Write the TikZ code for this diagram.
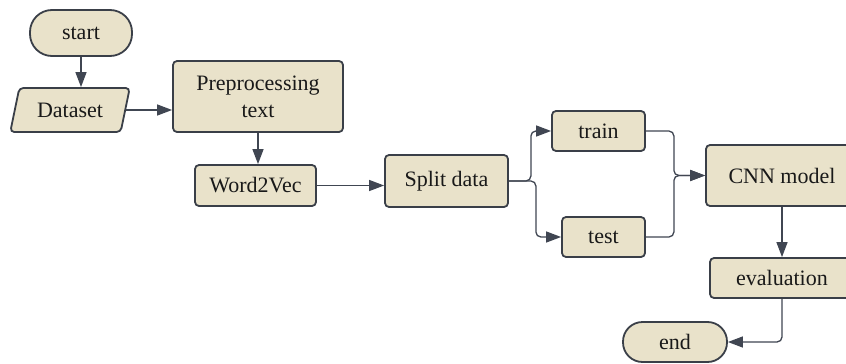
\documentclass[tikz,border=0pt]{standalone}
\usepackage{fontspec}
\setmainfont{Liberation Serif}
\usetikzlibrary{shapes.geometric,arrows.meta}
\definecolor{boxfill}{RGB}{233,226,202}
\definecolor{boxline}{RGB}{58,63,72}
\definecolor{wire}{RGB}{64,70,82}
\begin{document}
\begin{tikzpicture}[x=1pt,y=-1pt,
  box/.style={draw=boxline, fill=boxfill, line width=1.8pt, rounded corners=4pt,
    font=\fontsize{22}{27}\selectfont, align=center, inner sep=0pt, text=black!90},
  pill/.style={box, rounded corners=19.5pt},
  io/.style={box, shape=trapezium, trapezium left angle=68, trapezium right angle=112,
    trapezium stretches=true},
  arr/.style={draw=wire, line width=1.3pt, -{Triangle[length=15pt,width=11pt]}, rounded corners=5pt}
]
\useasboundingbox (0,0) rectangle (846,364);
\clip (0,0) rectangle (846,364);
\fill[white] (0,0) rectangle (846,364);

% process nodes
\node[pill, minimum width=102pt, minimum height=46pt, rounded corners=22pt] (start) at (81,33) {start};
\node[io, minimum width=120pt, minimum height=44pt] (data) at (70,110) {Dataset};
\node[box, minimum width=170pt, minimum height=71pt] (pre) at (258,96.5) {Preprocessing\\text};
\node[box, minimum width=121pt, minimum height=41pt] (w2v) at (255.5,185.5) {Word2Vec};
\node[box, minimum width=123pt, minimum height=52pt] (split) at (446.5,181) {Split data};
\node[box, minimum width=93pt, minimum height=40pt] (train) at (598.5,131) {train};
\node[box, minimum width=83pt, minimum height=40pt] (test) at (603.5,237) {test};
\node[box, minimum width=152pt, minimum height=61pt] (cnn) at (782,175.5) {CNN model};
\node[box, minimum width=144pt, minimum height=40pt] (eval) at (782,278) {evaluation};
\node[pill, minimum width=104pt, minimum height=40pt] (end) at (675,342) {end};

% connectors
\draw[arr] (start.south) -- (start.south |- data.north);
\draw[arr] (data.east) -- (data.east -| pre.west);
\draw[arr] (pre.south) -- (pre.south |- w2v.north);
\draw[arr] (w2v.east) -- (w2v.east -| split.west);
\draw[arr] (split.east) -- ([xshift=22pt]split.east) |- (train.west);
\draw[arr] (split.east) -- ([xshift=27pt]split.east) |- (test.west);
\draw[arr] (train.east) -- ([xshift=28pt]train.east) |- (cnn.west);
\draw[arr] (test.east) -- ([xshift=28pt]test.east) |- (cnn.west);
\draw[arr] (cnn.south) -- (eval.north);
\draw[arr] (eval.south) |- (end.east);
\end{tikzpicture}
\end{document}
